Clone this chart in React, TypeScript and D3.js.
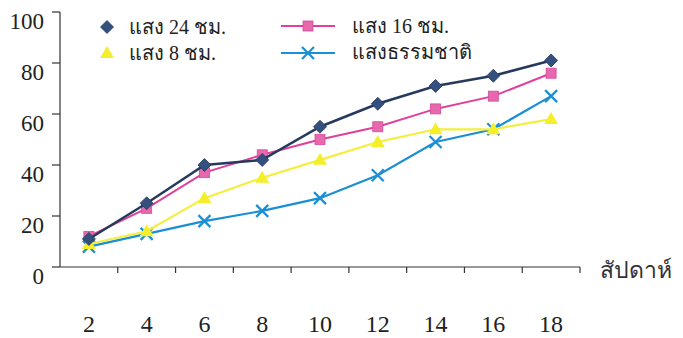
import React from "react";
import * as d3 from "d3";

const weeks = ["2", "4", "6", "8", "10", "12", "14", "16", "18"];
const light24 = [11, 25, 40, 42, 55, 64, 71, 75, 81];
const light16 = [12, 23, 37, 44, 50, 55, 62, 67, 76];
const light8 = [9, 14, 27, 35, 42, 49, 54, 54, 58];
const natural = [8, 13, 18, 22, 27, 36, 49, 54, 67];
const yTicks = [0, 20, 40, 60, 80, 100];
const seriesNames = ["แสง 24 ชม.", "แสง 16 ชม.", "แสง 8 ชม.", "แสงธรรมชาติ"];
const xTitle = "สัปดาห์";

const W = 683;
const H = 338;
const left = 60;
const right = 580;
const top = 12;
const bottom = 267;

const serif = "'Liberation Serif', 'DejaVu Serif', serif";

type Kind = "diamond" | "square" | "triangle" | "x";

function Marker({ kind, x, y, fill, stroke }: { kind: Kind; x: number; y: number; fill: string; stroke: string }) {
  if (kind === "diamond") {
    const s = 6.5;
    return <path d={`M${x},${y - s}L${x + s},${y}L${x},${y + s}L${x - s},${y}Z`} fill={fill} stroke={stroke} strokeWidth={0.8} />;
  }
  if (kind === "square") {
    const s = 5;
    return <rect x={x - s} y={y - s} width={2 * s} height={2 * s} fill={fill} stroke={stroke} strokeWidth={0.8} />;
  }
  if (kind === "triangle") {
    const s = 7;
    return <path d={`M${x},${y - s}L${x + s},${y + s * 0.7}L${x - s},${y + s * 0.7}Z`} fill={fill} />;
  }
  const s = 6;
  return (
    <path d={`M${x - s},${y - s}L${x + s},${y + s}M${x - s},${y + s}L${x + s},${y - s}`} stroke={stroke} strokeWidth={2.2} fill="none" />
  );
}

export default function App() {
  const x = d3.scaleBand<string>().domain(weeks).range([left, right]);
  const y = d3.scaleLinear().domain([0, 100]).range([bottom, top]);
  const cx = (w: string) => (x(w) as number) + x.bandwidth() / 2;

  const series = [
    { name: seriesNames[3], values: natural, line: "#1a8fd6", fill: "#1a8fd6", stroke: "#1a8fd6", kind: "x" as Kind, width: 2.2 },
    { name: seriesNames[2], values: light8, line: "#f4ef3c", fill: "#f4ef2a", stroke: "#f4ef2a", kind: "triangle" as Kind, width: 2.2 },
    { name: seriesNames[1], values: light16, line: "#e0409c", fill: "#e868ae", stroke: "#d8479c", kind: "square" as Kind, width: 2 },
    { name: seriesNames[0], values: light24, line: "#253a5e", fill: "#34507e", stroke: "#253a5e", kind: "diamond" as Kind, width: 2.5 },
  ];

  const lineGen = d3
    .line<number>()
    .x((_, i) => cx(weeks[i]))
    .y((d) => y(d));

  const boundaries = weeks.map((w) => x(w) as number).concat([right]);

  return (
    <svg width={W} height={H} style={{ position: "absolute", left: 0, top: 0, background: "#fff" }}>
      {/* axes */}
      <line x1={left} x2={left} y1={top} y2={bottom} stroke="#333" strokeWidth={1.2} />
      {yTicks.map((t) => (
        <g key={t}>
          <line x1={left - 8} x2={left} y1={y(t)} y2={y(t)} stroke="#333" strokeWidth={1.2} />
          <text x={44} y={y(t) + 17} textAnchor="end" fontFamily={serif} fontSize={23} fill="#222">
            {t}
          </text>
        </g>
      ))}
      <line x1={left} x2={right} y1={bottom} y2={bottom} stroke="#333" strokeWidth={1.2} />
      {boundaries.slice(1).map((b, i) => (
        <line key={i} x1={b} x2={b} y1={bottom} y2={bottom + 6} stroke="#333" strokeWidth={1.2} />
      ))}
      {weeks.map((w) => (
        <text key={w} x={cx(w)} y={332} textAnchor="middle" fontFamily={serif} fontSize={24} fill="#222">
          {w}
        </text>
      ))}
      <text x={600} y={278} fontFamily="'DejaVu Sans', sans-serif" fontSize={23} fill="#333">
        {xTitle}
      </text>

      {/* series */}
      {series.map((s) => (
        <g key={s.name}>
          <path d={lineGen(s.values) as string} fill="none" stroke={s.line} strokeWidth={s.width} />
          {s.values.map((v, i) => (
            <Marker key={i} kind={s.kind} x={cx(weeks[i])} y={y(v)} fill={s.fill} stroke={s.stroke} />
          ))}
        </g>
      ))}

      {/* legend */}
      <Marker kind="diamond" x={107} y={27} fill="#34507e" stroke="#253a5e" />
      <text x={129} y={34} fontFamily={serif} fontSize={20} fill="#222">{seriesNames[0]}</text>
      <Marker kind="triangle" x={107} y={53} fill="#f4ef2a" stroke="#f4ef2a" />
      <text x={129} y={60} fontFamily={serif} fontSize={20} fill="#222">{seriesNames[2]}</text>

      <line x1={281} x2={335} y1={26} y2={26} stroke="#e0409c" strokeWidth={2} />
      <Marker kind="square" x={308} y={26} fill="#e868ae" stroke="#d8479c" />
      <text x={352} y={33} fontFamily={serif} fontSize={20} fill="#222">{seriesNames[1]}</text>
      <line x1={281} x2={335} y1={53} y2={53} stroke="#1a8fd6" strokeWidth={2} />
      <Marker kind="x" x={308} y={53} fill="#1a8fd6" stroke="#1a8fd6" />
      <text x={352} y={59} fontFamily={serif} fontSize={20} fill="#222">{seriesNames[3]}</text>
    </svg>
  );
}
